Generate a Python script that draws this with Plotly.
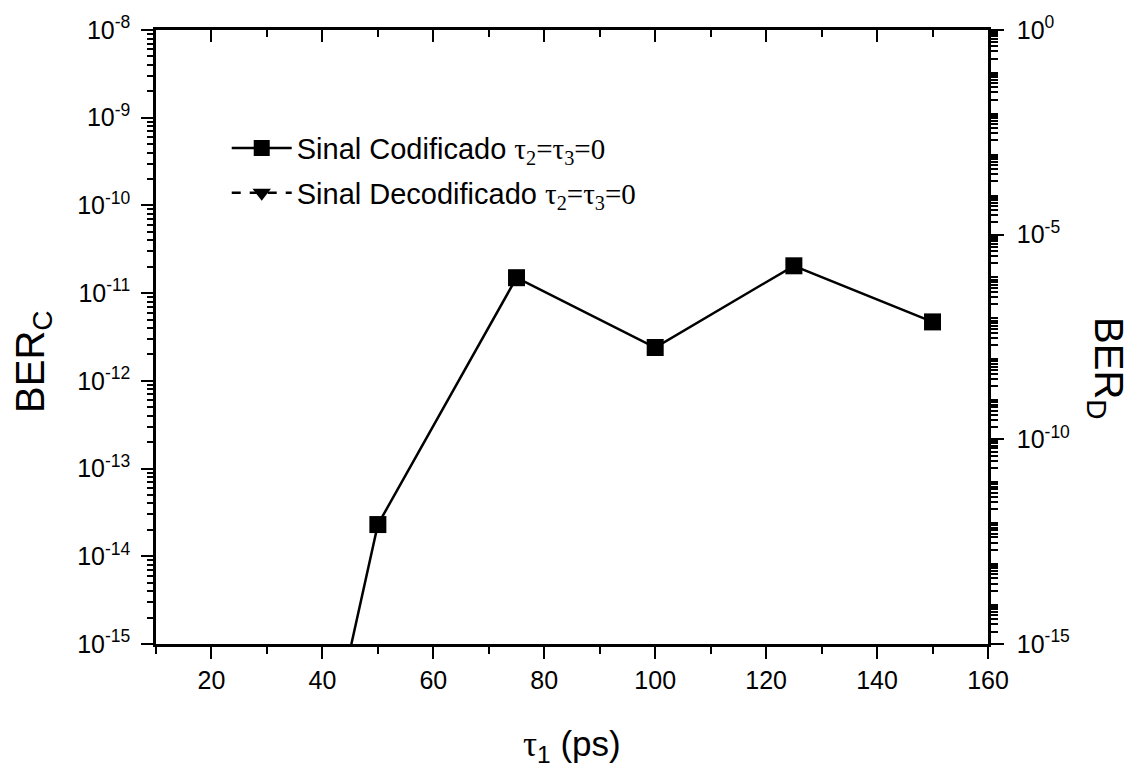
import plotly.graph_objects as go

# ---- data ----
tau1 = [25, 50, 75, 100, 125, 150]
ber_codificado = [1.7e-21, 2.3e-14, 1.5e-11, 2.4e-12, 2.05e-11, 4.7e-12]
ber_decodificado = [None, None, None, None, None, None]

x_major = [20, 40, 60, 80, 100, 120, 140, 160]
x_minor = [10, 30, 50, 70, 90, 110, 130, 150]
left_exps = [-15, -14, -13, -12, -11, -10, -9, -8]
right_exps = [-15, -14, -13, -12, -11, -10, -9, -8, -7, -6, -5, -4, -3, -2, -1, 0]
right_label_exps = [-15, -10, -5, 0]
minor_digits = [2, 3, 4, 5, 6, 7, 8, 9]

SANS = "Liberation Sans, Arial, sans-serif"
tau_leg = ('<span style="font-family:Liberation Serif">&#964;<sub>2</sub>=&#964;<sub>3</sub>=0</span>')

left_vals = [10.0 ** e for e in left_exps]
left_text = ["10<sup>%d</sup>" % e for e in left_exps]
left_minor = [d * 10.0 ** e for e in left_exps[:-1] for d in minor_digits]

right_decades = [10.0 ** e for e in right_exps]
right_vals = [10.0 ** e for e in right_label_exps]
right_text = ["10<sup>%d</sup>" % e for e in right_label_exps]
right_minor = [d * 10.0 ** e for e in right_exps[:-1] for d in minor_digits]

fig = go.Figure()
fig.add_trace(go.Scatter(
    x=tau1, y=ber_codificado, mode="lines+markers",
    name="Sinal Codificado " + tau_leg, legendgroup="a",
    line=dict(color="black", width=2.5),
    marker=dict(symbol="square", size=17, color="black"),
    xaxis="x", yaxis="y", cliponaxis=True,
))
fig.add_trace(go.Scatter(
    x=tau1, y=ber_decodificado, mode="lines+markers",
    name="Sinal Decodificado " + tau_leg, legendgroup="b",
    line=dict(color="black", width=2.5, dash="dash"),
    marker=dict(symbol="triangle-down", size=17, color="black"),
    xaxis="x2", yaxis="y2", connectgaps=False,
))

TICKFONT = dict(family=SANS, size=25, color="black")
axis_common = dict(showgrid=False, zeroline=False, showline=True,
                   linecolor="black", linewidth=2.5, tickcolor="black",
                   tickwidth=2, tickfont=TICKFONT)

fig.update_layout(
    width=1135, height=771,
    margin=dict(l=156, r=147, t=26, b=127),
    paper_bgcolor="white", plot_bgcolor="white",
    font=dict(family=SANS, color="black"),
    showlegend=True,
    legend=dict(x=0.085, y=0.771, xanchor="left", yanchor="middle",
                bgcolor="rgba(0,0,0,0)", borderwidth=0,
                font=dict(family=SANS, size=29, color="black"),
                itemwidth=60, tracegroupgap=4),
    xaxis=dict(range=[10, 160], tickmode="array", tickvals=x_major,
               ticks="outside", ticklen=12, anchor="y",
               minor=dict(tickmode="array", tickvals=x_minor, ticks="outside",
                          ticklen=7, tickwidth=2, tickcolor="black"),
               **axis_common),
    xaxis2=dict(range=[10, 160], overlaying="x", side="top", anchor="y",
                tickmode="array", tickvals=x_major, ticks="inside", ticklen=12,
                showticklabels=False,
                minor=dict(tickmode="array", tickvals=x_minor, ticks="inside",
                           ticklen=7, tickwidth=2, tickcolor="black"),
                **axis_common),
    yaxis=dict(type="log", range=[-15, -8], tickmode="array",
               tickvals=left_vals, ticktext=left_text,
               ticks="outside", ticklen=12, anchor="x", ticklabelstandoff=6,
               minor=dict(tickmode="array", tickvals=left_minor, ticks="outside",
                          ticklen=6, tickwidth=1.5, tickcolor="black"),
               **axis_common),
    yaxis2=dict(type="log", range=[-15, 0], overlaying="y", side="right",
                anchor="x", tickmode="array", tickvals=right_vals,
                ticktext=right_text, ticks="outside", ticklen=13,
                ticklabelstandoff=8,
                minor=dict(tickmode="array", tickvals=right_minor, ticks="outside",
                           ticklen=7, tickwidth=1.5, tickcolor="black"),
                **axis_common),
    yaxis3=dict(type="log", range=[-15, 0], overlaying="y", side="right",
                anchor="x", tickmode="array", tickvals=right_decades,
                ticks="outside", ticklen=13, tickwidth=2, tickcolor="black",
                showticklabels=False, showline=False, showgrid=False,
                zeroline=False),
    annotations=[
        dict(text="BER<sub>C</sub>", xref="paper", yref="paper",
             x=-0.181, y=0.46, textangle=-90, showarrow=False,
             font=dict(family=SANS, size=40, color="black")),
        dict(text="BER<sub>D</sub>", xref="paper", yref="paper",
             x=1.175, y=0.45, textangle=90, showarrow=False,
             font=dict(family=SANS, size=40, color="black")),
        dict(text='<span style="font-family:Liberation Serif">&#964;</span><sub>1</sub> (ps)',
             xref="paper", yref="paper", x=0.50, y=-0.205, showarrow=False,
             font=dict(family=SANS, size=35, color="black")),
    ],
)

fig.write_html("out.html")
